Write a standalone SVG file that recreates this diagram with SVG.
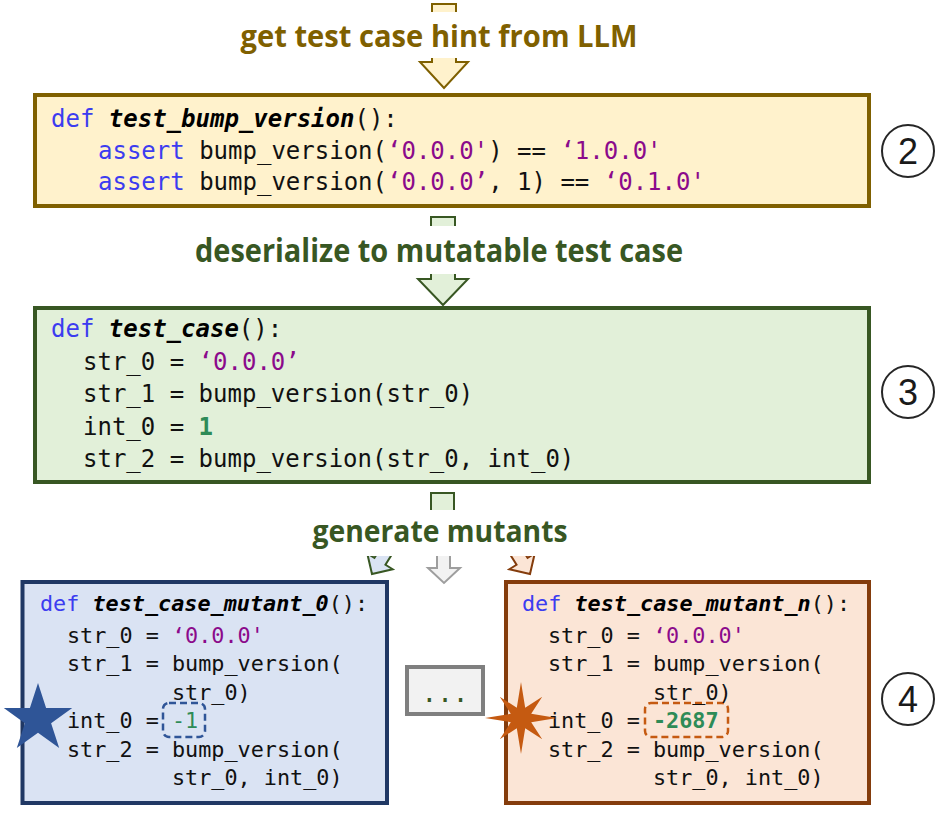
<svg xmlns="http://www.w3.org/2000/svg" width="944" height="819" viewBox="0 0 944 819">
<style>
.lbl{font-family:"Open Sans","Noto Sans","Liberation Sans",sans-serif;font-weight:700;text-anchor:middle}
.code{font-family:"DejaVu Sans Mono","Liberation Mono",monospace;font-size:24px;fill:#111}
.small{font-size:21.8px}
.kw{fill:#3c3cf0}
.fn{font-weight:bold;font-style:italic;fill:#000}
.str{fill:#8b0a8b}
.num{fill:#2e8b57}
.circ{fill:#fff;stroke:#262626;stroke-width:2}
.cnum{font-family:"Liberation Sans","Open Sans",sans-serif;font-size:36px;fill:#1a1a1a;text-anchor:middle}
</style>
<rect width="944" height="819" fill="#fff"/>
<g id="connectors">
  <polygon points="432,4 456,4 456,62 468,62 444,88 420,62 432,62" fill="#fff2cc" stroke="#7f6000" stroke-width="2"/>
  <polygon points="431,217 455,217 455,279 468,279 443,305 418,279 431,279" fill="#e2f0d9" stroke="#385723" stroke-width="2"/>
  <path d="M431,513 V493 H454 V513 Z" fill="#e2f0d9" stroke="#385723" stroke-width="2"/>
  <polygon transform="translate(372,574) rotate(32)" points="-6.5,-45 6.5,-45 6.5,-15 15,-15 0,0 -15,-15 -6.5,-15" fill="#dae3f3" stroke="#385723" stroke-width="2"/>
  <polygon points="437,545 450,545 450,568 460,568 444,583 428,568 437,568" fill="#f2f2f2" stroke="#9e9e9e" stroke-width="2"/>
  <polygon transform="translate(530,574) rotate(-32)" points="-6.5,-45 6.5,-45 6.5,-15 15,-15 0,0 -15,-15 -6.5,-15" fill="#fbe5d6" stroke="#843c0c" stroke-width="2"/>
  <rect x="415" y="12" width="60" height="46" fill="#fff"/>
  <rect x="410" y="226" width="70" height="48" fill="#fff"/>
  <rect x="300" y="510" width="290" height="46" fill="#fff"/>
  <text class="lbl" x="439" y="47" font-size="30" fill="#7f6000" textLength="397" lengthAdjust="spacingAndGlyphs">get test case hint from LLM</text>
  <text class="lbl" x="439" y="262" font-size="32" fill="#385723" textLength="488" lengthAdjust="spacingAndGlyphs">deserialize to mutatable test case</text>
  <text class="lbl" x="440" y="542" font-size="31" fill="#385723" textLength="255" lengthAdjust="spacingAndGlyphs">generate mutants</text>
</g>
<g id="hint">
  <rect x="35" y="95" width="834" height="111" fill="#fff2cc" stroke="#7f6000" stroke-width="4"/>
  <text class="code" x="51" y="127"><tspan class="kw">def</tspan> <tspan class="fn">test_bump_version</tspan>():</text>
  <text class="code" x="98" y="159"><tspan class="kw">assert</tspan> bump_version(<tspan class="str">‘0.0.0'</tspan>) == <tspan class="str">‘1.0.0'</tspan></text>
  <text class="code" x="98" y="190"><tspan class="kw">assert</tspan> bump_version(<tspan class="str">‘0.0.0’</tspan>, 1) == <tspan class="str">‘0.1.0'</tspan></text>
</g>
<g id="testcase">
  <rect x="35" y="308" width="834" height="174" fill="#e2f0d9" stroke="#385723" stroke-width="4"/>
  <text class="code" x="51" y="337"><tspan class="kw">def</tspan> <tspan class="fn">test_case</tspan>():</text>
  <text class="code" x="83" y="370">str_0 = <tspan class="str">‘0.0.0’</tspan></text>
  <text class="code" x="83" y="402">str_1 = bump_version(str_0)</text>
  <text class="code" x="83" y="435">int_0 = <tspan class="num" font-weight="bold">1</tspan></text>
  <text class="code" x="83" y="467">str_2 = bump_version(str_0, int_0)</text>
</g>
<g id="mutant0">
  <rect x="22.5" y="582" width="364.5" height="221" fill="#dae3f3" stroke="#203864" stroke-width="4"/>
  <rect x="163" y="703" width="42" height="34" rx="6" fill="none" stroke="#2f5597" stroke-width="2.5" stroke-dasharray="7,4"/>
  <text class="code small" x="40" y="611"><tspan class="kw">def</tspan> <tspan class="fn">test_case_mutant_0</tspan>():</text>
  <text class="code small" x="67" y="643">str_0 = <tspan class="str">‘0.0.0'</tspan></text>
  <text class="code small" x="67" y="671">str_1 = bump_version(</text>
  <text class="code small" x="172" y="700">str_0)</text>
  <text class="code small" x="67" y="728">int_0 = <tspan class="num">-1</tspan></text>
  <text class="code small" x="67" y="757">str_2 = bump_version(</text>
  <text class="code small" x="172" y="785">str_0, int_0)</text>
  <polygon points="38,683 46.1,707.9 72.2,707.9 51.1,723.3 59.2,748.1 38,732.8 16.8,748.1 24.9,723.3 3.8,707.9 29.9,707.9" fill="#2f5597"/>
</g>
<g id="ellipsis">
  <rect x="407" y="667" width="76" height="47" fill="#f2f2f2" stroke="#7f7f7f" stroke-width="4"/>
  <text x="445" y="702" font-family="DejaVu Sans Mono, monospace" font-size="26" fill="#385723" text-anchor="middle">...</text>
</g>
<g id="mutantn">
  <rect x="506" y="582" width="363" height="221" fill="#fbe5d6" stroke="#843c0c" stroke-width="4"/>
  <rect x="645" y="703" width="83" height="34" rx="6" fill="none" stroke="#c55a11" stroke-width="2.5" stroke-dasharray="7,4"/>
  <text class="code small" x="522" y="611"><tspan class="kw">def</tspan> <tspan class="fn">test_case_mutant_n</tspan>():</text>
  <text class="code small" x="548" y="643">str_0 = <tspan class="str">‘0.0.0'</tspan></text>
  <text class="code small" x="548" y="671">str_1 = bump_version(</text>
  <text class="code small" x="653" y="700">str_0)</text>
  <text class="code small" x="548" y="728">int_0 = <tspan class="num" font-weight="bold">-2687</tspan></text>
  <text class="code small" x="548" y="757">str_2 = bump_version(</text>
  <text class="code small" x="653" y="785">str_0, int_0)</text>
  <polygon points="521,682 525.2,707.8 542.2,696.8 531.2,713.8 557,718 531.2,722.2 542.2,739.2 525.2,728.2 521,754 516.8,728.2 499.8,739.2 510.8,722.2 485,718 510.8,713.8 499.8,696.8 516.8,707.8" fill="#c55a11"/>
</g>
<g id="step2"><circle class="circ" cx="908" cy="151" r="26"/><text class="cnum" x="908" y="164">2</text></g>
<g id="step3"><circle class="circ" cx="908" cy="392" r="26"/><text class="cnum" x="908" y="405">3</text></g>
<g id="step4"><circle class="circ" cx="908" cy="699" r="26"/><text class="cnum" x="908" y="712">4</text></g>
</svg>
